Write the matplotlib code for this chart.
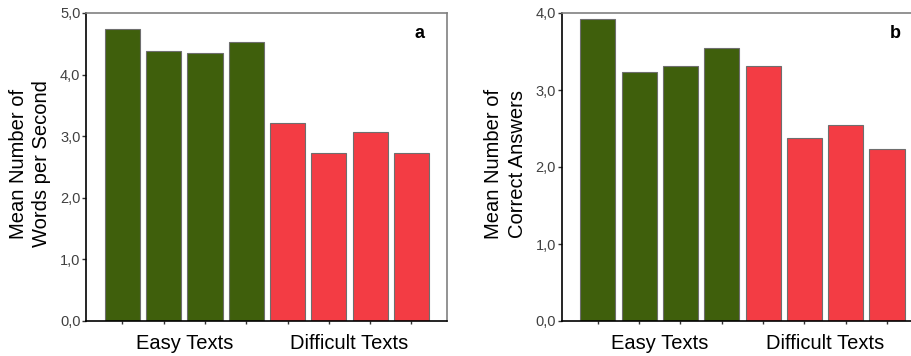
import matplotlib
matplotlib.use("Agg")
import matplotlib.pyplot as plt
import numpy as np

plt.rcParams['font.family'] = ['Liberation Sans', 'DejaVu Sans']

groups = ["Easy Texts", "Difficult Texts"]
words_per_second = [4.74, 4.39, 4.35, 4.53, 3.21, 2.73, 3.07, 2.72]
correct_answers = [3.92, 3.24, 3.31, 3.54, 3.31, 2.38, 2.54, 2.23]
bar_groups = ["easy"] * 4 + ["difficult"] * 4
colors = {"easy": "#3F5F0C", "difficult": "#F33C44"}
ylabels = ["Mean Number of\nWords per Second", "Mean Number of\nCorrect Answers"]
yticks_a = [0, 1, 2, 3, 4, 5]
yticks_b = [0, 1, 2, 3, 4]
panel_letters = ["a", "b"]

W, H = 911, 356
fig = plt.figure(figsize=(W / 100, H / 100), dpi=100)

panels = [
    (86, words_per_second, yticks_a, ylabels[0], panel_letters[0]),
    (561.5, correct_answers, yticks_b, ylabels[1], panel_letters[1]),
]

for left_px, vals, yt, ylab, letter in panels:
    ax = fig.add_axes([left_px / W, 35 / H, 361 / W, 308 / H])
    x = np.arange(len(vals))
    ax.bar(x, vals, width=0.85,
           color=[colors[g] for g in bar_groups],
           edgecolor="#6e6e6e", linewidth=0.8)
    ax.set_xlim(-0.88, 7.86)
    ax.set_ylim(0, yt[-1])
    ax.set_yticks(yt)
    ax.set_yticklabels([f"{v:.1f}".replace(".", ",") for v in yt],
                       color="#404040", fontsize=10.5)
    ax.set_xticks(x)
    ax.set_xticklabels([])
    ax.tick_params(axis="x", direction="out", length=2.5, width=1, color="#333333")
    ax.tick_params(axis="y", direction="out", length=3, width=1, color="#333333", pad=1)
    for s in ["left", "bottom"]:
        ax.spines[s].set_color("black")
        ax.spines[s].set_linewidth(1.2)
    for s in ["top", "right"]:
        ax.spines[s].set_color("#808080")
        ax.spines[s].set_linewidth(1.2)
    ax.set_ylabel(ylab, fontsize=14.5, linespacing=1.3)
    ax.yaxis.set_label_coords(-0.096, 0.51)
    ax.text(1.5, -0.072, groups[0], transform=ax.get_xaxis_transform(),
            ha="center", va="center", fontsize=14.5)
    ax.text(5.5, -0.072, groups[1], transform=ax.get_xaxis_transform(),
            ha="center", va="center", fontsize=14.5)
    ax.text(7.2, 0.935, letter, transform=ax.get_xaxis_transform(),
            ha="center", va="center", fontsize=13, fontweight="bold")

fig.savefig("out.png", dpi=100)
